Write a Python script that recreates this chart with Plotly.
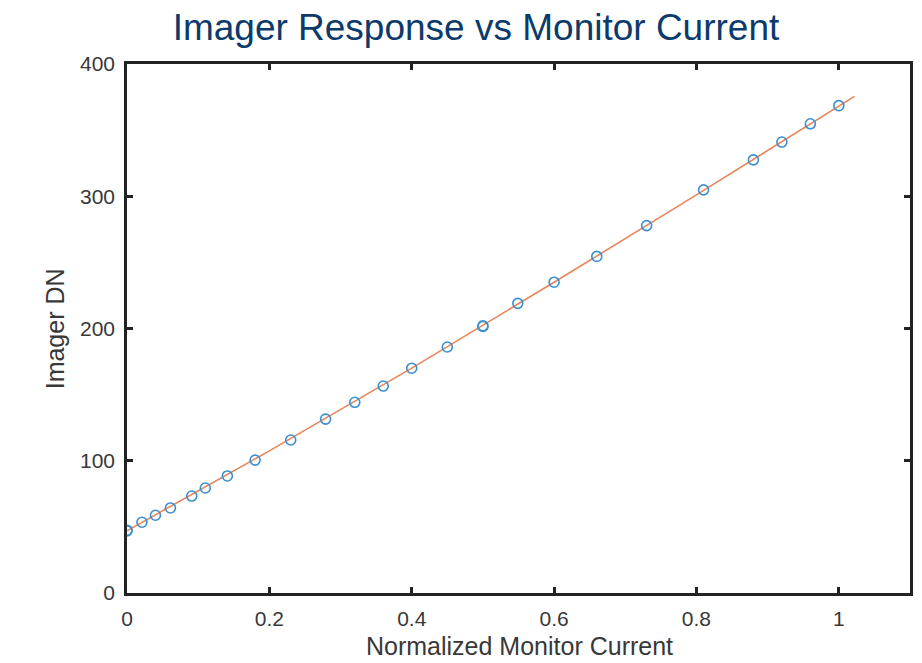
import plotly.graph_objects as go

# Measured data (normalized monitor current vs imager DN)
current = [0.0, 0.0, 0.021, 0.04, 0.061, 0.091, 0.11, 0.141, 0.18, 0.23, 0.279,
           0.32, 0.36, 0.40, 0.45, 0.50, 0.50, 0.549, 0.60, 0.66, 0.73, 0.81,
           0.88, 0.92, 0.96, 1.0]
dn = [47.5, 47.0, 53.5, 58.8, 64.3, 73.3, 79.4, 88.5, 100.5, 115.7, 131.5,
      144.2, 156.5, 170.0, 186.0, 202.0, 201.5, 219.0, 235.0, 254.5, 277.8, 304.8,
      327.5, 341.0, 354.8, 368.5]

# Fit curve
fit_x = [0.0, 0.2, 0.4, 0.6, 0.8, 1.022]
fit_y = [47.0, 107.5, 170.0, 235.0, 301.0, 375.5]

x_ticks = [0, 0.2, 0.4, 0.6, 0.8, 1]
x_tick_labels = ["0", "0.2", "0.4", "0.6", "0.8", "1"]
y_ticks = [0, 100, 200, 300, 400]

FONT = "Liberation Sans, Arial, sans-serif"

fig = go.Figure()
fig.add_trace(go.Scatter(
    x=fit_x, y=fit_y, mode="lines",
    line=dict(color="#E8855A", width=1.6), showlegend=False, hoverinfo="skip"))
fig.add_trace(go.Scatter(
    x=current, y=dn, mode="markers",
    marker=dict(symbol="circle-open", size=10, color="#3A8FD0", line=dict(width=1.6)),
    showlegend=False))

axis_common = dict(
    showline=True, linecolor="#222222", linewidth=2.5, mirror="ticks",
    ticks="inside", ticklen=6, tickwidth=2.5, tickcolor="#222222",
    showgrid=False, zeroline=False,
    tickfont=dict(family=FONT, size=21, color="#383838"),
)

fig.update_layout(
    width=914, height=655,
    margin=dict(l=119, r=9, t=56, b=70),
    paper_bgcolor="white", plot_bgcolor="white",
    title=dict(text="Imager Response vs Monitor Current", x=0.512, xanchor="center",
               y=0.971, yanchor="middle",
               font=dict(family=FONT, size=37, color="#0B3A6B")),
    xaxis=dict(range=[0, 1.1], tickvals=x_ticks, ticktext=x_tick_labels,
               ticklabelstandoff=5, **axis_common),
    yaxis=dict(range=[0, 400], tickvals=y_ticks, ticklabelstandoff=5, **axis_common),
    annotations=[
        dict(text="Normalized Monitor Current", xref="paper", yref="paper",
             x=0.501, y=-0.100, xanchor="center", yanchor="middle",
             showarrow=False, font=dict(family=FONT, size=25, color="#383838")),
        dict(text="Imager DN", xref="paper", yref="paper",
             x=-0.0916, y=0.499, xanchor="center", yanchor="middle",
             textangle=-90, showarrow=False,
             font=dict(family=FONT, size=25, color="#383838")),
    ],
)

fig.write_html("out.html")
